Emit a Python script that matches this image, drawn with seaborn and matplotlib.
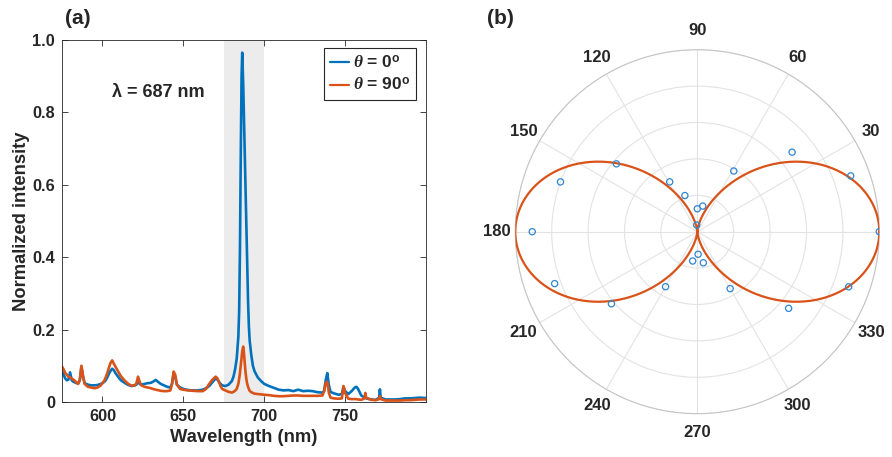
import numpy as np
import pandas as pd
import matplotlib
matplotlib.use("Agg")
import matplotlib.pyplot as plt
import seaborn as sns

# ---------------- data ----------------
wavelength = [
    575, 576, 577, 578, 579, 580, 581, 582, 583, 584,
    585, 586, 587, 588, 589, 591, 593, 595, 597, 599,
    601, 602, 603, 604, 605, 606, 607, 608, 609, 610,
    611, 612, 614, 616, 618, 620, 621, 622, 623, 624,
    626, 628, 630, 632, 633, 634, 636, 638, 640, 642,
    643, 644, 645, 646, 648, 650, 653, 656, 659, 662,
    664, 666, 668, 670, 671, 672, 673, 674, 676, 678,
    680, 681, 682, 683, 684, 684.5, 685, 685.5, 686, 686.4,
    687, 687.5, 688, 688.5, 689, 689.5, 690, 690.5, 691, 692,
    693, 694, 696, 698, 700, 703, 706, 709, 712, 715,
    718, 721, 724, 727, 730, 733, 736, 737, 738, 739,
    740, 741, 743, 746, 748, 749, 750, 752, 754, 756,
    757, 758, 760, 762, 762.5, 763, 766, 769, 771, 771.5,
    772, 775, 778, 781, 784, 787, 790, 793, 796, 800,
]
intensity_0deg = [
    0.084, 0.075, 0.065, 0.060, 0.062, 0.082, 0.060, 0.056, 0.054, 0.052,
    0.052, 0.060, 0.098, 0.070, 0.052, 0.048, 0.046, 0.046, 0.047, 0.050,
    0.055, 0.060, 0.068, 0.078, 0.086, 0.092, 0.088, 0.080, 0.074, 0.068,
    0.062, 0.058, 0.052, 0.047, 0.044, 0.046, 0.048, 0.056, 0.050, 0.048,
    0.050, 0.052, 0.053, 0.058, 0.061, 0.057, 0.050, 0.046, 0.042, 0.040,
    0.050, 0.079, 0.070, 0.048, 0.040, 0.036, 0.033, 0.032, 0.032, 0.034,
    0.038, 0.044, 0.055, 0.065, 0.062, 0.056, 0.050, 0.046, 0.044, 0.048,
    0.058, 0.070, 0.090, 0.120, 0.180, 0.250, 0.420, 0.680, 0.900, 0.965,
    0.880, 0.780, 0.680, 0.580, 0.480, 0.380, 0.280, 0.210, 0.170, 0.130,
    0.100, 0.085, 0.068, 0.058, 0.050, 0.044, 0.039, 0.034, 0.032, 0.033,
    0.030, 0.034, 0.030, 0.031, 0.030, 0.027, 0.026, 0.030, 0.060, 0.080,
    0.045, 0.028, 0.024, 0.020, 0.022, 0.042, 0.030, 0.022, 0.030, 0.040,
    0.042, 0.036, 0.018, 0.012, 0.014, 0.010, 0.007, 0.006, 0.012, 0.035,
    0.012, 0.007, 0.007, 0.007, 0.008, 0.010, 0.010, 0.011, 0.012, 0.011,
]
intensity_90deg = [
    0.098, 0.090, 0.080, 0.075, 0.070, 0.068, 0.065, 0.062, 0.058, 0.054,
    0.050, 0.060, 0.100, 0.072, 0.050, 0.042, 0.040, 0.038, 0.040, 0.046,
    0.058, 0.068, 0.080, 0.095, 0.108, 0.115, 0.106, 0.098, 0.090, 0.082,
    0.074, 0.068, 0.058, 0.050, 0.045, 0.046, 0.052, 0.070, 0.056, 0.046,
    0.042, 0.040, 0.038, 0.035, 0.034, 0.033, 0.031, 0.030, 0.030, 0.032,
    0.050, 0.084, 0.075, 0.048, 0.036, 0.034, 0.032, 0.031, 0.030, 0.030,
    0.036, 0.050, 0.062, 0.070, 0.066, 0.056, 0.044, 0.036, 0.032, 0.028,
    0.026, 0.028, 0.031, 0.036, 0.050, 0.064, 0.080, 0.100, 0.122, 0.140,
    0.153, 0.135, 0.105, 0.080, 0.062, 0.050, 0.042, 0.036, 0.031, 0.027,
    0.025, 0.023, 0.022, 0.021, 0.020, 0.019, 0.017, 0.016, 0.016, 0.017,
    0.018, 0.018, 0.017, 0.017, 0.017, 0.017, 0.018, 0.030, 0.052, 0.056,
    0.025, 0.012, 0.010, 0.009, 0.010, 0.044, 0.025, 0.009, 0.008, 0.008,
    0.008, 0.007, 0.006, 0.010, 0.025, 0.012, 0.006, 0.005, 0.008, 0.016,
    0.008, 0.004, 0.004, 0.004, 0.004, 0.005, 0.005, 0.006, 0.007, 0.007,
]
series_labels = [r"$\theta$ = 0$^{\mathbf{o}}$", r"$\theta$ = 90$^{\mathbf{o}}$"]
shade_range = (675, 700)
peak_label = "λ = 687 nm"

# polar data (angle in degrees, normalized intensity)
pol_angle_deg = [0, 20, 40, 59, 78, 90, 95, 109, 119, 140, 160,
                 180, 200, 220, 240, 261, 272, 281, 300, 320, 340]
pol_intensity = [1.0, 0.897, 0.68, 0.389, 0.144, 0.126, 0.037, 0.21, 0.313, 0.58, 0.80,
                 0.907, 0.834, 0.616, 0.349, 0.163, 0.124, 0.174, 0.361, 0.655, 0.885]
fit_amplitude = 1.0
fit_phase_deg = 0.0

BLUE = "#0072BD"
ORANGE = "#D95319"
DARK = "#262626"

# ---------------- style ----------------
sns.set_style("ticks")
plt.rcParams["font.family"] = ["Liberation Sans", "DejaVu Sans"]
plt.rcParams["font.weight"] = "bold"
plt.rcParams["mathtext.fontset"] = "custom"
plt.rcParams["mathtext.it"] = "Liberation Serif:italic"
plt.rcParams["mathtext.rm"] = "Liberation Sans:bold"
plt.rcParams["mathtext.bf"] = "Liberation Sans:bold"

fig = plt.figure(figsize=(8.92, 4.57), dpi=100)

# ---------------- panel (a) ----------------
ax = fig.add_axes([62 / 892, 55 / 457, 364 / 892, 362 / 457])
df = pd.DataFrame({
    "wl": wavelength * 2,
    "I": intensity_0deg + intensity_90deg,
    "s": [series_labels[0]] * len(wavelength) + [series_labels[1]] * len(wavelength),
})
ax.axvspan(*shade_range, color="#ececec", zorder=0, lw=0)
sns.lineplot(data=df, x="wl", y="I", hue="s", palette=[BLUE, ORANGE],
             lw=1.9, ax=ax, estimator=None, sort=True)
ax.set_xlim(575, 800)
ax.set_ylim(0, 1.0)
ax.set_xticks([600, 650, 700, 750])
ax.set_yticks([0, 0.2, 0.4, 0.6, 0.8, 1.0])
ax.set_yticklabels(["0", "0.2", "0.4", "0.6", "0.8", "1.0"])
ax.set_xlabel("Wavelength (nm)", fontsize=13.2, fontweight="bold", color=DARK, labelpad=4)
ax.set_ylabel("Normalized intensity", fontsize=13.2, fontweight="bold", color=DARK, labelpad=2)
ax.tick_params(direction="in", length=4, width=0.6, top=True, right=True,
               labelsize=11.7, colors=DARK, pad=5)
for lab in ax.get_xticklabels() + ax.get_yticklabels():
    lab.set_fontweight("bold")
for sp in ax.spines.values():
    sp.set_linewidth(0.6)
    sp.set_color(DARK)
ax.text(634.5, 0.854, peak_label, ha="center", va="center",
        fontsize=13, fontweight="bold", color=DARK)
leg = ax.legend(loc="upper right", bbox_to_anchor=(0.9725, 0.978), borderaxespad=0,
                fancybox=False, framealpha=1, edgecolor=DARK, fontsize=12.5,
                handlelength=1.1, handletextpad=0.2, borderpad=0.35, labelspacing=0.3,
                title=None)
leg.get_frame().set_linewidth(0.8)
for t in leg.get_texts():
    t.set_fontweight("bold")
for l in leg.get_lines():
    l.set_linewidth(1.6)
fig.text(65 / 892, 1 - 18 / 457, "(a)", fontsize=15, fontweight="bold",
         color=DARK, va="center", ha="left")

# ---------------- panel (b) ----------------
pax = fig.add_axes([515.3 / 892, (457 - 413.7) / 457, 364 / 892, 364 / 457],
                   projection="polar")
theta_pts = np.deg2rad(pol_angle_deg)
fit_theta = np.linspace(0, 2 * np.pi, 721)
fit_r = fit_amplitude * np.cos(fit_theta - np.deg2rad(fit_phase_deg)) ** 2
sns.lineplot(x=fit_theta, y=fit_r, ax=pax, color=ORANGE, lw=1.6, sort=False,
             estimator=None, zorder=3)
sns.scatterplot(x=theta_pts, y=pol_intensity, ax=pax, marker="o", s=20,
                facecolor="none", edgecolor="#2f86d1", linewidth=0.9, zorder=4)
pax.set_ylim(0, 1.0)
pax.set_yticks([0.2, 0.4, 0.6, 0.8, 1.0])
pax.set_yticklabels([])
pax.set_thetagrids(range(0, 360, 30), [str(a) for a in range(0, 360, 30)])
pax.set_xlabel("")
pax.set_ylabel("")
pax.grid(True, color="#e3e3e3", lw=0.8)
pax.spines["polar"].set_color("#c4c4c4")
pax.spines["polar"].set_linewidth(0.8)
pax.tick_params(axis="x", labelsize=12, colors=DARK, pad=3)
for lab in pax.get_xticklabels():
    lab.set_fontweight("bold")
fig.text(487 / 892, 1 - 18 / 457, "(b)", fontsize=15, fontweight="bold",
         color=DARK, va="center", ha="left")

fig.savefig("out.png", dpi=100)
